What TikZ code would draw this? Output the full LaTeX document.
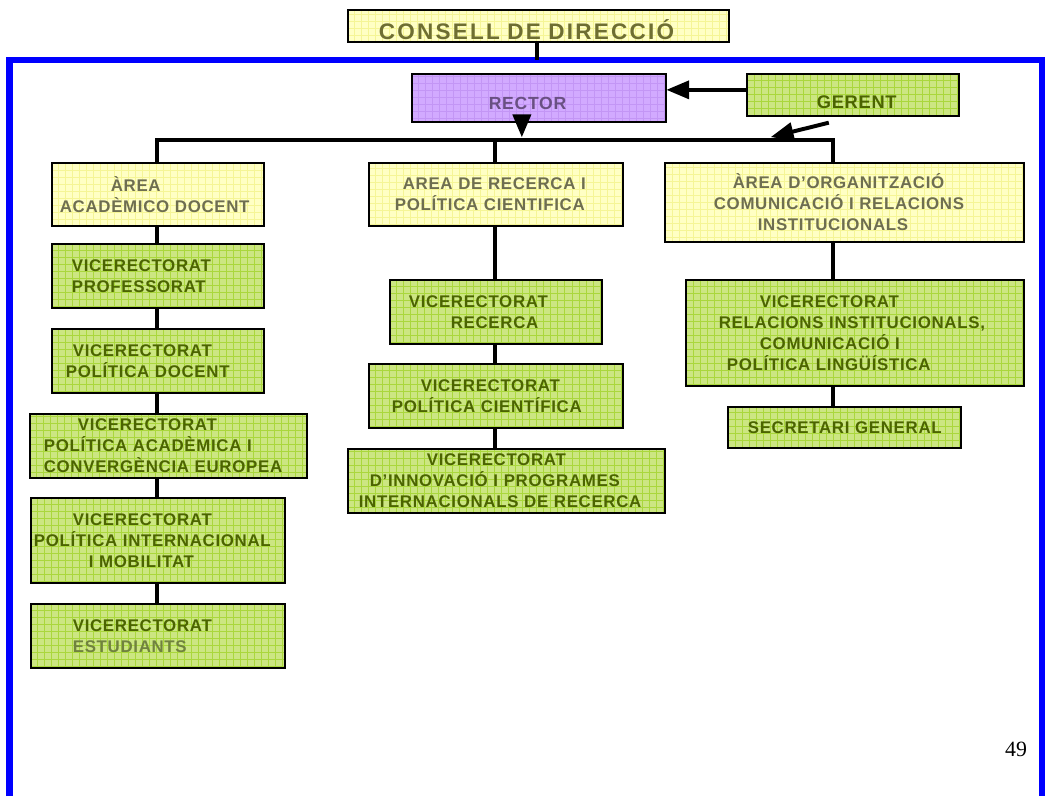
\documentclass[tikz,border=0pt]{standalone}
\usepackage{fontspec}
\setmainfont{Liberation Sans}
\newfontfamily\boxfam[LetterSpace=4]{Liberation Sans}
\newfontfamily\titlefam[LetterSpace=10]{Liberation Sans}
\newfontfamily\pagefam{Liberation Serif}
\usepackage{tikz}
\usetikzlibrary{arrows}
\newdimen\pxu \pxu=0.025cm
\newcommand{\indline}[2]{\hspace*{#1\pxu}\mbox{#2}}
\newcommand{\lowline}[3]{\hspace*{#1\pxu}\raisebox{-#2\pxu}[\height][\depth]{#3}}
\newcommand{\boxfont}{\boxfam\bfseries\fontsize{12}{14.9}\selectfont}
\newcommand{\titlefont}{\titlefam\bfseries\fontsize{16}{18}\selectfont}
\definecolor{frameblue}{RGB}{0,0,255}
\definecolor{areafill}{RGB}{255,255,196}
\definecolor{areagrid}{RGB}{245,245,150}
\definecolor{areatext}{RGB}{110,110,80}
\definecolor{vicefill}{RGB}{204,230,130}
\definecolor{vicegrid}{RGB}{170,215,60}
\definecolor{vicetext}{RGB}{75,100,0}
\definecolor{estudtext}{RGB}{112,130,62}
\definecolor{rectfill}{RGB}{210,170,255}
\definecolor{rectgrid}{RGB}{195,150,245}
\definecolor{recttext}{RGB}{105,80,130}
\definecolor{titletext}{RGB}{110,110,50}
\tikzset{
  box/.style={draw=black, line width=1.2pt, anchor=north west, inner xsep=0pt,
    inner ysep=0pt, align=left, font=\boxfont},
  grid fill/.style={path picture={\draw[#1, line width=0.5pt, step=7\pxu]
    (path picture bounding box.south west) grid (path picture bounding box.north east);}},
  area/.style={box, fill=areafill, grid fill=areagrid, text=areatext},
  vice/.style={box, fill=vicefill, grid fill=vicegrid, text=vicetext},
  conn/.style={line width=2.8pt, >=triangle 45},
}

\begin{document}
\begin{tikzpicture}[x=0.025cm, y=-0.025cm]
\useasboundingbox (0,0) rectangle (1045,796);
% frame
\draw[frameblue, line width=4.4pt] (9.5,796) |- (1042,60) -- (1042,796);
\coordinate (ftop) at (537,60);
\coordinate (colL) at (157,140);
\coordinate (colM) at (495,140);
\coordinate (colR) at (833,140);
\coordinate (gtip) at (771,137);

% top
\node[box, fill=areafill, grid fill=areagrid, text=titletext, font=\titlefont,
  text width=381\pxu, minimum height=32\pxu] (consell) at (347,9) {\lowline{31}{4}{CONSELL DE DIRECCIÓ}};
\node[box, fill=rectfill, grid fill=rectgrid, text=recttext, font=\boxfam\bfseries\fontsize{12.5}{14}\selectfont,
  text width=254\pxu, minimum height=48\pxu] (rector) at (411,73) {\lowline{77}{6}{RECTOR}};
\node[vice, font=\boxfam\bfseries\fontsize{13}{15}\selectfont,
  text width=212\pxu, minimum height=42\pxu] (gerent) at (746,73) {\lowline{70}{7}{GERENT}};

% areas
\node[area, text width=212\pxu, minimum height=63\pxu] (areaA) at (51,162)
  {\indline{59}{ÀREA}\\\indline{8}{ACADÈMICO DOCENT}};
\node[area, text width=254\pxu, minimum height=63\pxu] (areaM) at (368,162)
  {\indline{34}{AREA DE RECERCA I}\\\indline{26}{POLÍTICA CIENTIFICA}};
\node[area, text width=359\pxu, minimum height=79\pxu] (areaR) at (664,162)
  {\indline{68}{ÀREA D’ORGANITZACIÓ}\\\indline{49}{COMUNICACIÓ I RELACIONS}\\\indline{93}{INSTITUCIONALS}};

% left column
\node[vice, text width=212\pxu, minimum height=64\pxu] (vprof) at (51,243)
  {\indline{20}{VICERECTORAT}\\\indline{20}{PROFESSORAT}};
\node[vice, text width=212\pxu, minimum height=64\pxu] (vdoc) at (51,328)
  {\indline{21}{VICERECTORAT}\\\indline{14}{POLÍTICA DOCENT}};
\node[vice, text width=277\pxu, minimum height=64\pxu] (vacad) at (29,413)
  {\indline{48}{VICERECTORAT}\\\indline{14}{POLÍTICA ACADÈMICA I}\\\indline{14}{CONVERGÈNCIA EUROPEA}};
\node[vice, text width=254\pxu, minimum height=85\pxu] (vint) at (30,497)
  {\indline{42}{VICERECTORAT}\\\indline{3}{POLÍTICA INTERNACIONAL}\\\indline{58}{I MOBILITAT}};
\node[vice, text width=254\pxu, minimum height=64\pxu] (vest) at (30,603)
  {\indline{42}{VICERECTORAT}\\\indline{42}{\color{estudtext}ESTUDIANTS}};

% middle column
\node[vice, text width=212\pxu, minimum height=64\pxu] (vrec) at (389,279)
  {\indline{19}{VICERECTORAT}\\\indline{61}{RECERCA}};
\node[vice, text width=254\pxu, minimum height=64\pxu] (vcien) at (368,363)
  {\indline{52}{VICERECTORAT}\\\indline{23}{POLÍTICA CIENTÍFICA}};
\node[vice, text width=317\pxu, minimum height=64\pxu] (vinn) at (347,448)
  {\indline{79}{VICERECTORAT}\\\indline{22}{D’INNOVACIÓ I PROGRAMES}\\\indline{11}{INTERNACIONALS DE RECERCA}};

% right column
\node[vice, text width=338\pxu, minimum height=106\pxu] (vrel) at (685,279)
  {\indline{74}{VICERECTORAT}\\\indline{33}{RELACIONS INSTITUCIONALS,}\\\indline{74}{COMUNICACIÓ I}\\\indline{41}{POLÍTICA LINGÜÍSTICA}};
\node[vice, text width=233\pxu, minimum height=41\pxu] (sec) at (727,406)
  {\indline{20}{SECRETARI GENERAL}};

\node[font=\pagefam\fontsize{15.5}{18}\selectfont] (pnum) at (1016,749) {49};

% connectors
\draw[conn] (consell.south -| ftop) -- (ftop);
\draw[conn] (areaA.north -| colL) |- (colR) -- (areaR.north -| colR);
\draw[conn] (colM) -- (areaM.north -| colM);
\foreach \c/\a/\b in {colL/areaA/vprof, colL/vprof/vdoc, colL/vdoc/vacad, colL/vacad/vint,
  colL/vint/vest, colM/areaM/vrec, colM/vrec/vcien, colM/vcien/vinn, colR/areaR/vrel, colR/vrel/sec}
  \draw[conn] (\a.south -| \c) -- (\b.north -| \c);
\draw[conn, ->] ([yshift=5\pxu]gerent.west) -- ([yshift=5\pxu]gerent.west -| rector.east);
\draw[conn, ->] ([xshift=-17\pxu]rector.south) -- ([xshift=-17\pxu]rector.south |- gtip);
\draw[conn, ->] ([xshift=-24\pxu, yshift=-6\pxu]gerent.south) -- (gtip);
\end{tikzpicture}
\end{document}
